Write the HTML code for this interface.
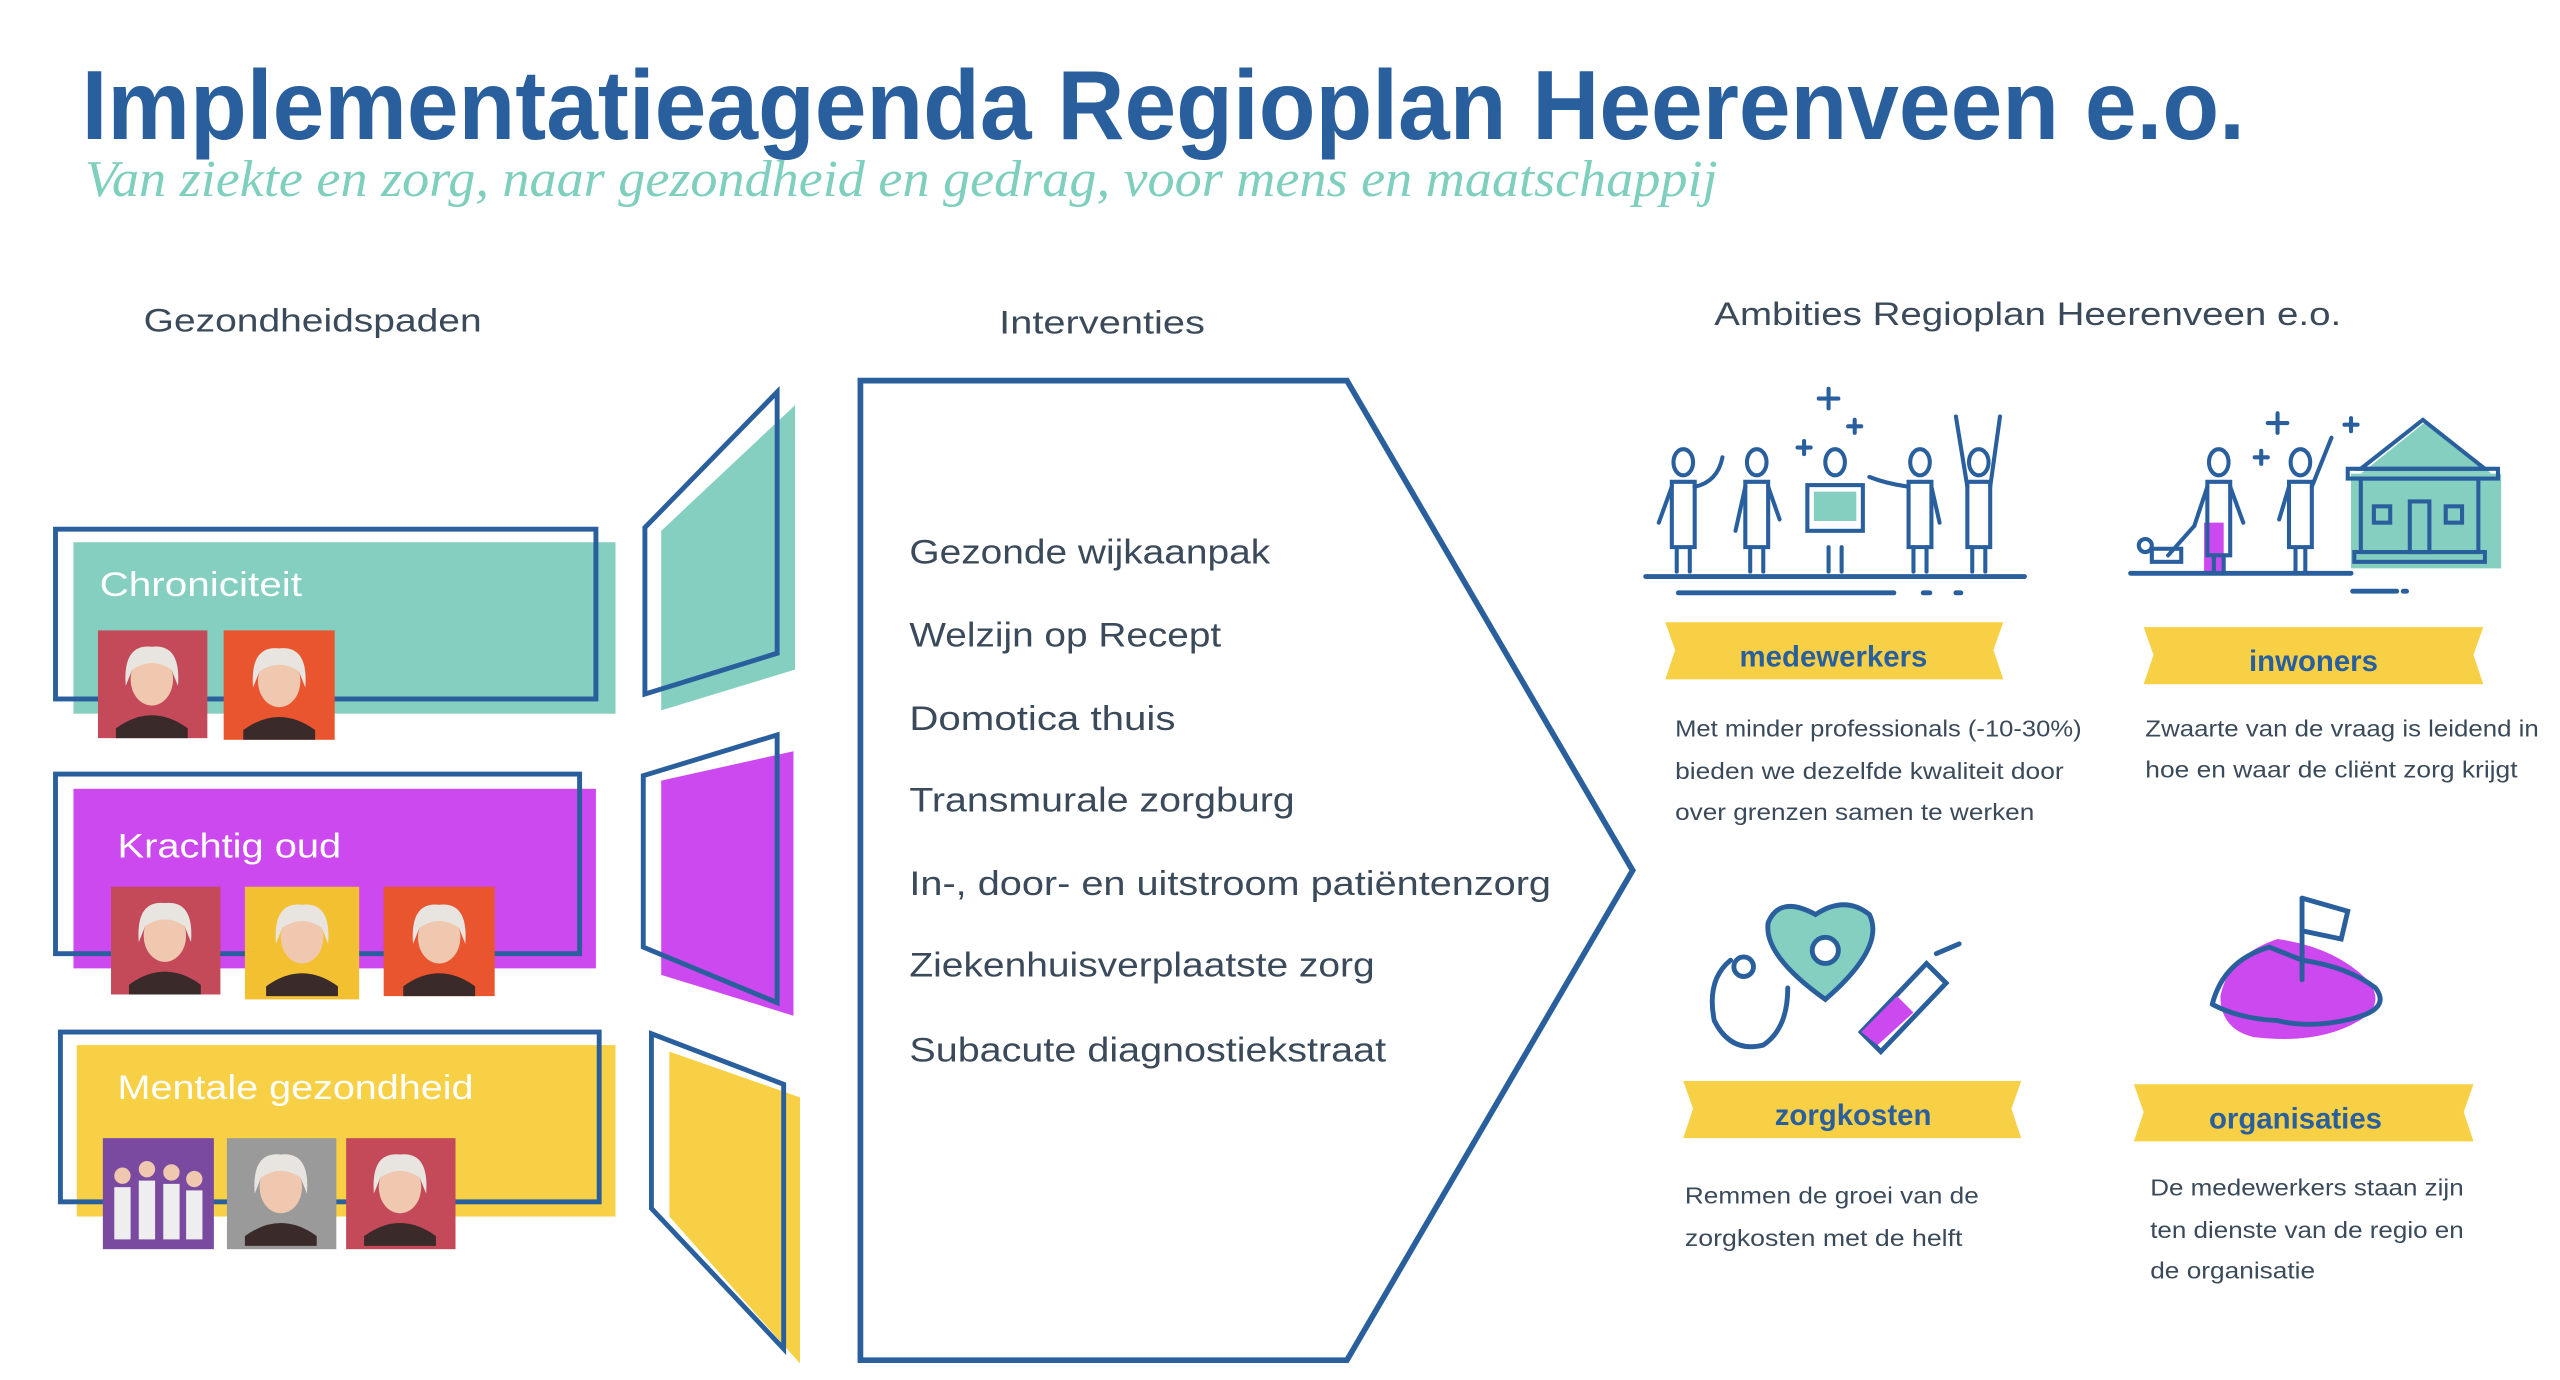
<!DOCTYPE html>
<html><head><meta charset="utf-8"><style>
html,body{margin:0;padding:0;background:#fff;width:2560px;height:1380px;overflow:hidden}
svg{display:block}
text{font-family:"Liberation Sans",sans-serif}
</style></head><body>
<svg width="2560" height="1380" viewBox="0 0 1568 845" xmlns="http://www.w3.org/2000/svg">
<defs>
<g id="face">
<ellipse cx="0" cy="4" rx="13" ry="16" fill="#f0c8b0"/>
<path d="M-16,8 Q-18,-18 0,-16 Q18,-18 16,8 L12,-2 Q0,-10 -12,-2 Z" fill="#e8e4e0"/>
<path d="M-22,34 Q0,18 22,34 L22,40 L-22,40 Z" fill="#3a2a2a"/>
</g>
</defs>
<text x="50" y="85" font-size="60" font-weight="bold" fill="#2a5f9e" textLength="1325" lengthAdjust="spacingAndGlyphs">Implementatieagenda Regioplan Heerenveen e.o.</text>
<text x="52" y="120" fill="#7fcfbf" style="font-family:'Liberation Serif',serif;font-style:italic;font-size:32px" textLength="1000" lengthAdjust="spacingAndGlyphs">Van ziekte en zorg, naar gezondheid en gedrag, voor mens en maatschappij</text>

<g fill="#3a4a5a" font-size="20">
<text x="88" y="203" textLength="207" lengthAdjust="spacingAndGlyphs">Gezondheidspaden</text>
<text x="612" y="204" textLength="126" lengthAdjust="spacingAndGlyphs">Interventies</text>
<text x="1050" y="199" textLength="384" lengthAdjust="spacingAndGlyphs">Ambities Regioplan Heerenveen e.o.</text>
</g>

<rect x="45" y="332" width="332" height="105" fill="#85cfc0"/>
<rect x="34" y="324" width="331" height="104" fill="none" stroke="#2a5f9e" stroke-width="3"/>
<text x="61" y="365" font-size="21" fill="#fff" textLength="124" lengthAdjust="spacingAndGlyphs">Chroniciteit</text>
<rect x="60" y="386" width="67" height="66" fill="#c44a5a"/><use href="#face" x="93" y="412"/>
<rect x="137" y="386" width="68" height="67" fill="#e8552f"/><use href="#face" x="171" y="413"/>
<polygon points="405,325 487,248 487,410 405,435" fill="#85cfc0"/>
<polygon points="395,323 476,240 476,400 395,425" fill="none" stroke="#2a5f9e" stroke-width="3"/>

<rect x="45" y="483" width="320" height="110" fill="#cc48ef"/>
<rect x="34" y="474" width="321" height="110" fill="none" stroke="#2a5f9e" stroke-width="3"/>
<text x="72" y="525" font-size="21" fill="#fff" textLength="137" lengthAdjust="spacingAndGlyphs">Krachtig oud</text>
<rect x="68" y="543" width="67" height="66" fill="#c44a5a"/><use href="#face" x="101" y="569"/>
<rect x="150" y="543" width="70" height="69" fill="#f2c030"/><use href="#face" x="185" y="570"/>
<rect x="235" y="543" width="68" height="67" fill="#e8552f"/><use href="#face" x="269" y="570"/>
<polygon points="405,478 486,460 486,622 405,597" fill="#cc48ef"/>
<polygon points="394,475 476,450 476,614 394,580" fill="none" stroke="#2a5f9e" stroke-width="3"/>

<rect x="47" y="640" width="330" height="105" fill="#f7d046"/>
<rect x="37" y="632" width="330" height="104" fill="none" stroke="#2a5f9e" stroke-width="3"/>
<text x="72" y="673" font-size="21" fill="#fff" textLength="218" lengthAdjust="spacingAndGlyphs">Mentale gezondheid</text>
<rect x="63" y="697" width="68" height="68" fill="#7a4aa0"/>
<g fill="#f0c8b0"><circle cx="75" cy="720" r="5"/><circle cx="90" cy="716" r="5"/><circle cx="105" cy="718" r="5"/><circle cx="119" cy="722" r="5"/></g>
<g fill="#eee"><rect x="70" y="727" width="10" height="32"/><rect x="85" y="723" width="10" height="36"/><rect x="100" y="725" width="10" height="34"/><rect x="114" y="729" width="10" height="30"/></g>
<rect x="139" y="697" width="67" height="68" fill="#9a9a9a"/><use href="#face" x="172" y="723"/>
<rect x="212" y="697" width="67" height="68" fill="#c44a5a"/><use href="#face" x="245" y="723"/>
<polygon points="410,644 490,672 490,835 410,745" fill="#f7d046"/>
<polygon points="399,633 480,664 480,826 399,740" fill="none" stroke="#2a5f9e" stroke-width="3"/>

<polygon points="527,233 825,233 1000,533 825,833 527,833" fill="none" stroke="#2a5f9e" stroke-width="3.5"/>
<g fill="#3a4a5a" font-size="21">
<text x="557" y="345" textLength="221" lengthAdjust="spacingAndGlyphs">Gezonde wijkaanpak</text>
<text x="557" y="396" textLength="191" lengthAdjust="spacingAndGlyphs">Welzijn op Recept</text>
<text x="557" y="447" textLength="163" lengthAdjust="spacingAndGlyphs">Domotica thuis</text>
<text x="557" y="497" textLength="236" lengthAdjust="spacingAndGlyphs">Transmurale zorgburg</text>
<text x="557" y="548" textLength="393" lengthAdjust="spacingAndGlyphs">In-, door- en uitstroom patiëntenzorg</text>
<text x="557" y="598" textLength="285" lengthAdjust="spacingAndGlyphs">Ziekenhuisverplaatste zorg</text>
<text x="557" y="650" textLength="292" lengthAdjust="spacingAndGlyphs">Subacute diagnostiekstraat</text>
</g>

<g fill="#f7d046">
<polygon points="1020,381 1227,381 1221,398 1227,416 1020,416 1026,398"/>
<polygon points="1313,384 1521,384 1515,401 1521,419 1313,419 1319,401"/>
<polygon points="1031,662 1238,662 1232,679 1238,697 1031,697 1037,679"/>
<polygon points="1307,664 1515,664 1509,681 1515,699 1307,699 1313,681"/>
</g>
<g fill="#2a5f9e" font-size="18" font-weight="bold" text-anchor="middle">
<text x="1123" y="408">medewerkers</text>
<text x="1417" y="411">inwoners</text>
<text x="1135" y="689">zorgkosten</text>
<text x="1406" y="691">organisaties</text>
</g>
<g fill="#3a4a5a" font-size="14">
<text x="1026" y="451" textLength="249" lengthAdjust="spacingAndGlyphs">Met minder professionals  (-10-30%)</text>
<text x="1026" y="477" textLength="238" lengthAdjust="spacingAndGlyphs">bieden we dezelfde kwaliteit door</text>
<text x="1026" y="502" textLength="220" lengthAdjust="spacingAndGlyphs">over grenzen samen te werken</text>
<text x="1314" y="451" textLength="241" lengthAdjust="spacingAndGlyphs">Zwaarte van de vraag is leidend in</text>
<text x="1314" y="476" textLength="228" lengthAdjust="spacingAndGlyphs">hoe en waar de cliënt zorg krijgt</text>
<text x="1032" y="737" textLength="180" lengthAdjust="spacingAndGlyphs">Remmen de groei van de</text>
<text x="1032" y="763" textLength="170" lengthAdjust="spacingAndGlyphs">zorgkosten met de helft</text>
<text x="1317" y="732" textLength="192" lengthAdjust="spacingAndGlyphs">De medewerkers staan zijn</text>
<text x="1317" y="758" textLength="192" lengthAdjust="spacingAndGlyphs">ten dienste van de regio en</text>
<text x="1317" y="783" textLength="101" lengthAdjust="spacingAndGlyphs">de organisatie</text>
</g>

<g fill="none" stroke="#2a5f9e" stroke-width="2.5" stroke-linecap="round">
<line x1="1008" y1="353" x2="1240" y2="353" stroke-width="3"/>
<line x1="1028" y1="363" x2="1160" y2="363" stroke-width="3"/>
<line x1="1178" y1="363" x2="1182" y2="363" stroke-width="3"/><line x1="1198" y1="363" x2="1201" y2="363" stroke-width="3"/>
<ellipse cx="1031" cy="283" rx="6" ry="8"/><path d="M1024,295 h14 v40 h-14 Z"/><line x1="1027" y1="335" x2="1027" y2="350"/><line x1="1035" y1="335" x2="1035" y2="350"/><path d="M1024,298 L1016,320"/>
<path d="M1038,298 Q1052,295 1055,280"/>
<ellipse cx="1076" cy="283" rx="6" ry="8"/><path d="M1069,295 h14 v40 h-14 Z"/><line x1="1072" y1="335" x2="1072" y2="350"/><line x1="1080" y1="335" x2="1080" y2="350"/><path d="M1069,298 L1063,325"/><path d="M1083,298 L1090,318"/>
<ellipse cx="1124" cy="283" rx="6" ry="8"/><line x1="1120" y1="335" x2="1120" y2="350"/><line x1="1128" y1="335" x2="1128" y2="350"/>
<rect x="1107" y="297" width="34" height="28" fill="#fff"/>
<rect x="1111" y="301" width="26" height="18" fill="#85cfc0" stroke="none"/>
<ellipse cx="1176" cy="283" rx="6" ry="8"/><path d="M1169,295 h14 v40 h-14 Z"/><line x1="1172" y1="335" x2="1172" y2="350"/><line x1="1180" y1="335" x2="1180" y2="350"/><path d="M1169,298 Q1155,296 1145,292"/><path d="M1183,298 L1188,320"/>
<ellipse cx="1212" cy="283" rx="6" ry="8"/><path d="M1205,295 h14 v40 h-14 Z"/><line x1="1208" y1="335" x2="1208" y2="350"/><line x1="1216" y1="335" x2="1216" y2="350"/><path d="M1205,298 L1198,255"/><path d="M1219,298 L1225,255"/>
<path d="M1120,238 v12 M1114,244 h12 M1136,257 v8 M1132,261 h8 M1105,270 v8 M1101,274 h8"/>
</g>

<rect x="1440" y="290" width="92" height="58" fill="#85cfc0"/>
<polygon points="1446,290 1486,258 1526,290" fill="#85cfc0"/>
<rect x="1350" y="320" width="12" height="30" fill="#cc48ef"/>
<g fill="none" stroke="#2a5f9e" stroke-width="2.5" stroke-linecap="round">
<line x1="1305" y1="351" x2="1440" y2="351" stroke-width="3"/>
<line x1="1441" y1="362" x2="1468" y2="362" stroke-width="3"/><line x1="1472" y1="362" x2="1474" y2="362" stroke-width="3"/>
<ellipse cx="1359" cy="283" rx="6" ry="8"/><path d="M1352,295 h14 v45 h-14 Z"/><line x1="1356" y1="340" x2="1356" y2="350"/><line x1="1362" y1="340" x2="1362" y2="350"/><path d="M1352,298 L1344,322"/><path d="M1366,298 L1374,320"/>
<path d="M1344,322 L1328,340"/><rect x="1318" y="336" width="18" height="8"/><circle cx="1314" cy="334" r="4"/>
<ellipse cx="1409" cy="283" rx="6" ry="8"/><path d="M1402,295 h14 v40 h-14 Z"/><line x1="1406" y1="335" x2="1406" y2="350"/><line x1="1412" y1="335" x2="1412" y2="350"/><path d="M1402,298 L1396,318"/><path d="M1416,298 L1428,268"/>
<polygon points="1446,287 1484,257 1522,287"/><rect x="1438" y="287" width="92" height="6"/>
<rect x="1446" y="293" width="72" height="45"/><rect x="1442" y="338" width="80" height="6"/>
<rect x="1476" y="307" width="12" height="31"/><rect x="1454" y="310" width="10" height="10"/><rect x="1498" y="310" width="10" height="10"/>
<path d="M1395,253 v12 M1389,259 h12 M1440,256 v8 M1436,260 h8 M1385,276 v8 M1381,280 h8"/>
</g>

<path d="M1118,612 Q1080,585 1083,565 Q1090,548 1112,560 Q1130,548 1145,560 Q1155,580 1118,612 Z" fill="#85cfc0" stroke="#2a5f9e" stroke-width="3"/>
<circle cx="1118" cy="582" r="8" fill="#fff" stroke="#2a5f9e" stroke-width="3"/>
<g fill="none" stroke="#2a5f9e" stroke-width="3" stroke-linecap="round">
<path d="M1060,588 Q1045,600 1050,625 Q1060,645 1080,640 Q1095,630 1095,605"/>
<circle cx="1068" cy="592" r="6"/>
<path d="M1140,632 L1180,590 L1192,602 L1152,644 Z"/>
<line x1="1186" y1="584" x2="1200" y2="578"/>
</g>
<path d="M1140,632 L1162,610 L1172,620 L1150,640 Z" fill="#cc48ef"/>

<path d="M1360,610 Q1365,585 1395,575 Q1430,580 1450,600 Q1462,615 1445,625 Q1420,640 1380,635 Q1360,630 1360,610 Z" fill="#cc48ef"/>
<g fill="none" stroke="#2a5f9e" stroke-width="3" stroke-linecap="round">
<path d="M1355,615 Q1362,588 1390,580 L1410,588 Q1438,592 1455,605 Q1465,618 1440,624 Q1415,630 1395,625 Q1372,624 1355,615"/>
<line x1="1410" y1="600" x2="1410" y2="550"/>
<path d="M1410,550 L1438,558 L1434,575 L1410,570"/>
</g>
</svg>
</body></html>
